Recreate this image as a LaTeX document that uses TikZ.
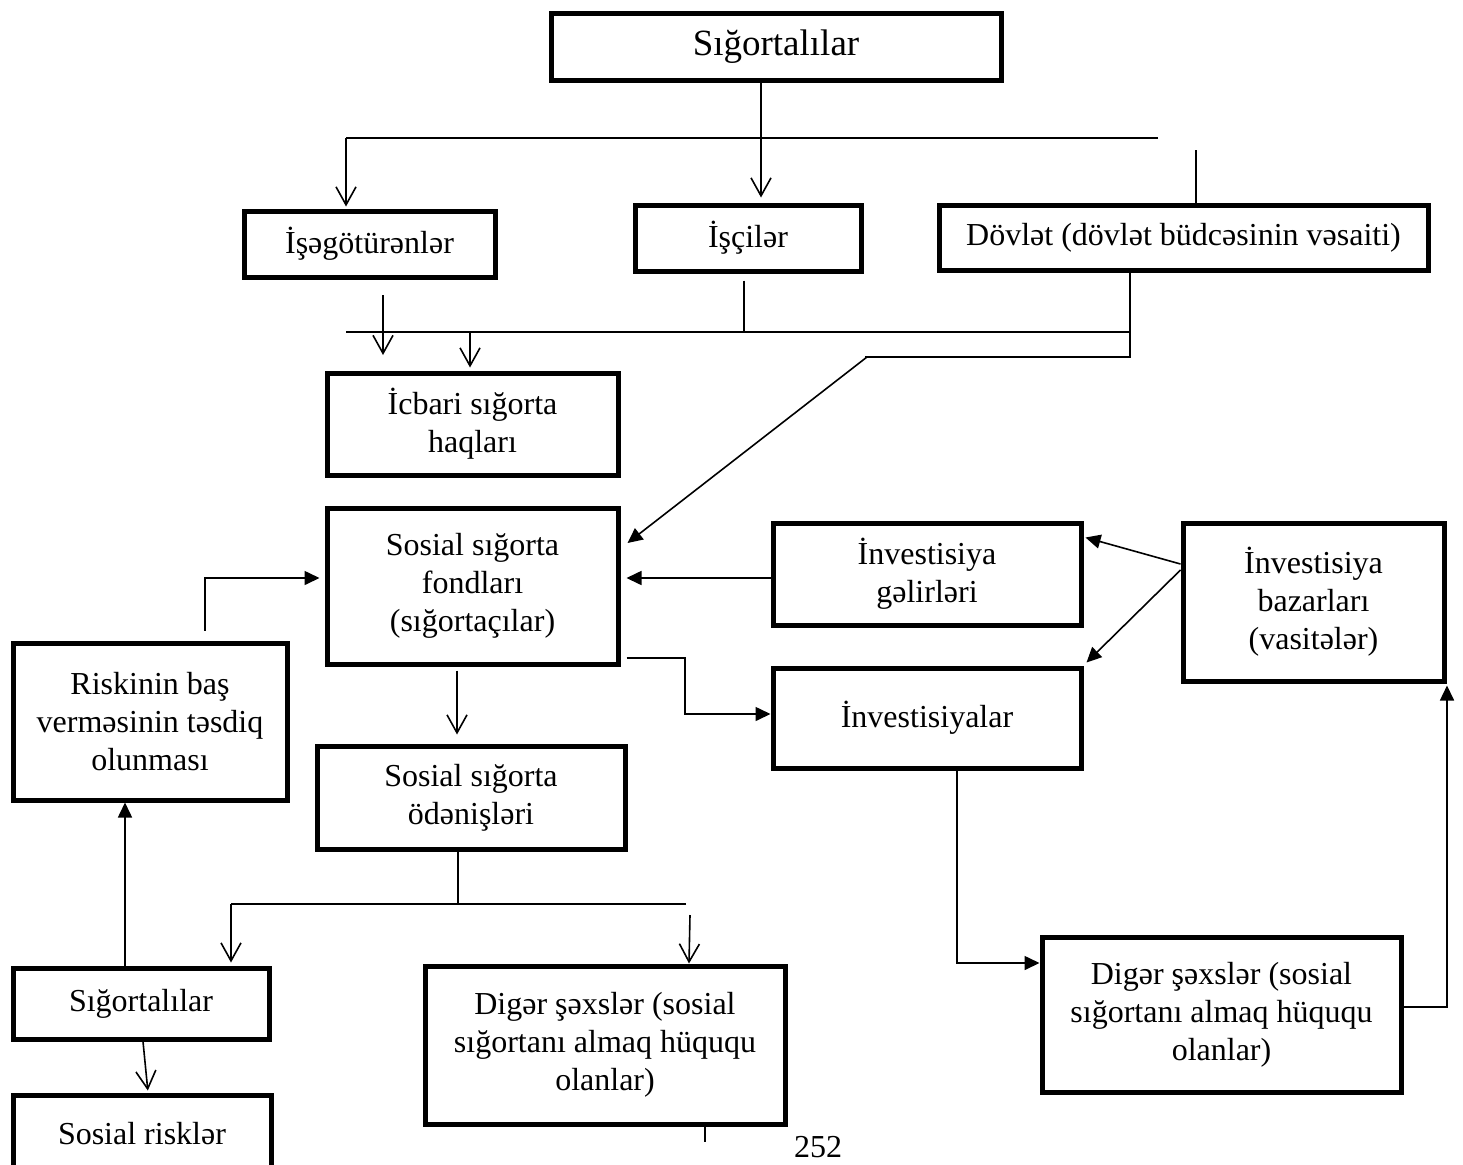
\documentclass[tikz,border=0pt]{standalone}
\usepackage{fontspec}
\setmainfont{Liberation Serif}
\usetikzlibrary{arrows.meta,calc}
\begin{document}
\begin{tikzpicture}[x=1pt,y=-1pt,
  box/.style={draw,line width=5pt,inner sep=0pt,align=center,
    font=\fontsize{32}{38}\selectfont},
  conn/.style={line width=1.6pt},
  oarr/.style={conn,-{Straight Barb[length=18pt,width=20pt,line width=1.6pt]}},
  farr/.style={conn,-{Triangle[length=15pt,width=14pt]}}]
\useasboundingbox (0,0) rectangle (1463,1164);
\clip (0,0) rectangle (1463,1164);

% boxes
\node[box,minimum width=450,minimum height=66,font=\fontsize{37}{44}\selectfont] (top) at (776,47) {Sığortalılar};
\node[box,minimum width=251,minimum height=66] (isg) at (369.5,244) {İşəgötürənlər};
\node[box,minimum width=226,minimum height=66] (isci) at (748,238) {İşçilər};
\node[box,minimum width=489,minimum height=65] (dov) at (1183.5,237.5) {Dövlət (dövlət büdcəsinin vəsaiti)};
\node[box,minimum width=291,minimum height=102] (icb) at (472.5,424) {İcbari sığorta\\haqları};
\node[box,minimum width=291,minimum height=156] (fond) at (472.5,586) {Sosial sığorta\\fondları\\(sığortaçılar)};
\node[box,minimum width=308,minimum height=102] (ig) at (927,574) {İnvestisiya\\gəlirləri};
\node[box,minimum width=308,minimum height=100] (inv) at (927,718) {İnvestisiyalar};
\node[box,minimum width=261,minimum height=158] (ib) at (1313.5,602) {İnvestisiya\\bazarları\\(vasitələr)};
\node[box,minimum width=274,minimum height=157] (risk) at (150,721.5) {Riskinin baş\\verməsinin təsdiq\\olunması};
\node[box,minimum width=308,minimum height=103] (ode) at (471,797.5) {Sosial sığorta\\ödənişləri};
\node[box,minimum width=256,minimum height=71] (sig2) at (141,1003.5) {Sığortalılar};
\node[box,minimum width=258,minimum height=78] (sr) at (142,1134) {Sosial risklər};
\node[box,minimum width=360,minimum height=158] (dig1) at (605,1045) {Digər şəxslər (sosial\\sığortanı almaq hüququ\\olanlar)};
\node[box,minimum width=359,minimum height=155] (dig2) at (1221.5,1014.5) {Digər şəxslər (sosial\\sığortanı almaq hüququ\\olanlar)};
\node[font=\fontsize{32}{38}\selectfont,inner sep=0pt,text depth=0pt,anchor=base] (page) at (818,1157) {252};

% junction points
\coordinate (b1l) at (346,138);
\coordinate (b1r) at (1158,138);
\coordinate (d1) at (1196,150);
\coordinate (e1) at (383,295);
\coordinate (e2) at (383,355);
\coordinate (b2l) at (346,332);
\coordinate (b2r) at (1130,332);
\coordinate (d2) at (1130,357);
\coordinate (d3) at (867,357);
\coordinate (f1) at (685,714);
\coordinate (r1) at (205,578);
\coordinate (o1) at (458,904);
\coordinate (o2l) at (231,904);
\coordinate (o2r) at (686,904);
\coordinate (o3) at (690,915);
\coordinate (g1) at (705,1142);
\coordinate (v1) at (1447,1007);

% top distribution
\draw[oarr,shorten >=5pt] (top.south -| 761,0) -- (isci.north -| 761,0);
\draw[conn] (b1r) -- (b1l);
\draw[oarr,shorten >=2pt] (b1l) -- (isg.north -| b1l);
\draw[conn] (dov.north -| d1) -- (d1);

% collection into compulsory contributions
\draw[oarr] (e1) -- (e2);
\draw[conn] (b2l) -- (b2r);
\draw[oarr,shorten >=3pt] (b2l -| 470,0) -- (icb.north -| 470,0);
\draw[conn,shorten <=7pt] (isci.south -| 744,0) -- (b2l -| 744,0);
\draw[conn] (dov.south -| d2) -- (d2) -- (d2 -| 865,0);
\draw[farr] (d3) -- ($(fond.east)+(7,-43)$);

% investment flows
\draw[farr,shorten >=6pt] (ig.west |- 0,578) -- (fond.east |- 0,578);
\draw[farr] (ib.west |- 0,564) -- ($(ig.north east)+(2,17)$);
\draw[farr] (ib.west |- 0,570) -- ($(inv.north east)+(3,-3)$);
\draw[farr] ([xshift=6pt]fond.east |- 0,658) -| (f1) -- (inv.west |- f1);
\draw[farr] (inv.south -| 957,0) |- (dig2.west |- 0,963);
\draw[farr,shorten >=2pt] (dig2.east |- v1) -- (v1) -- (ib.south -| v1);

% payments
\draw[oarr,shorten <=4pt,shorten >=9pt] (fond.south -| 457,0) -- (ode.north -| 457,0);
\draw[conn] (ode.south -| o1) -- (o1);
\draw[conn] (o2r) -- (o2l);
\draw[oarr,shorten >=3pt] (o2l) -- (sig2.north -| o2l);
\draw[oarr] (o3) -- (dig1.north -| 689,0);
\draw[conn] (dig1.south -| g1) -- (g1);

% insured persons and risks
\draw[farr] (sig2.north -| 125,0) -- (risk.south -| 125,0);
\draw[farr,shorten >=5pt] (risk.north -| r1) ++(0,-10) -- (r1) -- (fond.west |- r1);
\draw[oarr,shorten >=2pt] (sig2.south -| 143,0) -- (sr.north -| 148,0);
\end{tikzpicture}
\end{document}
